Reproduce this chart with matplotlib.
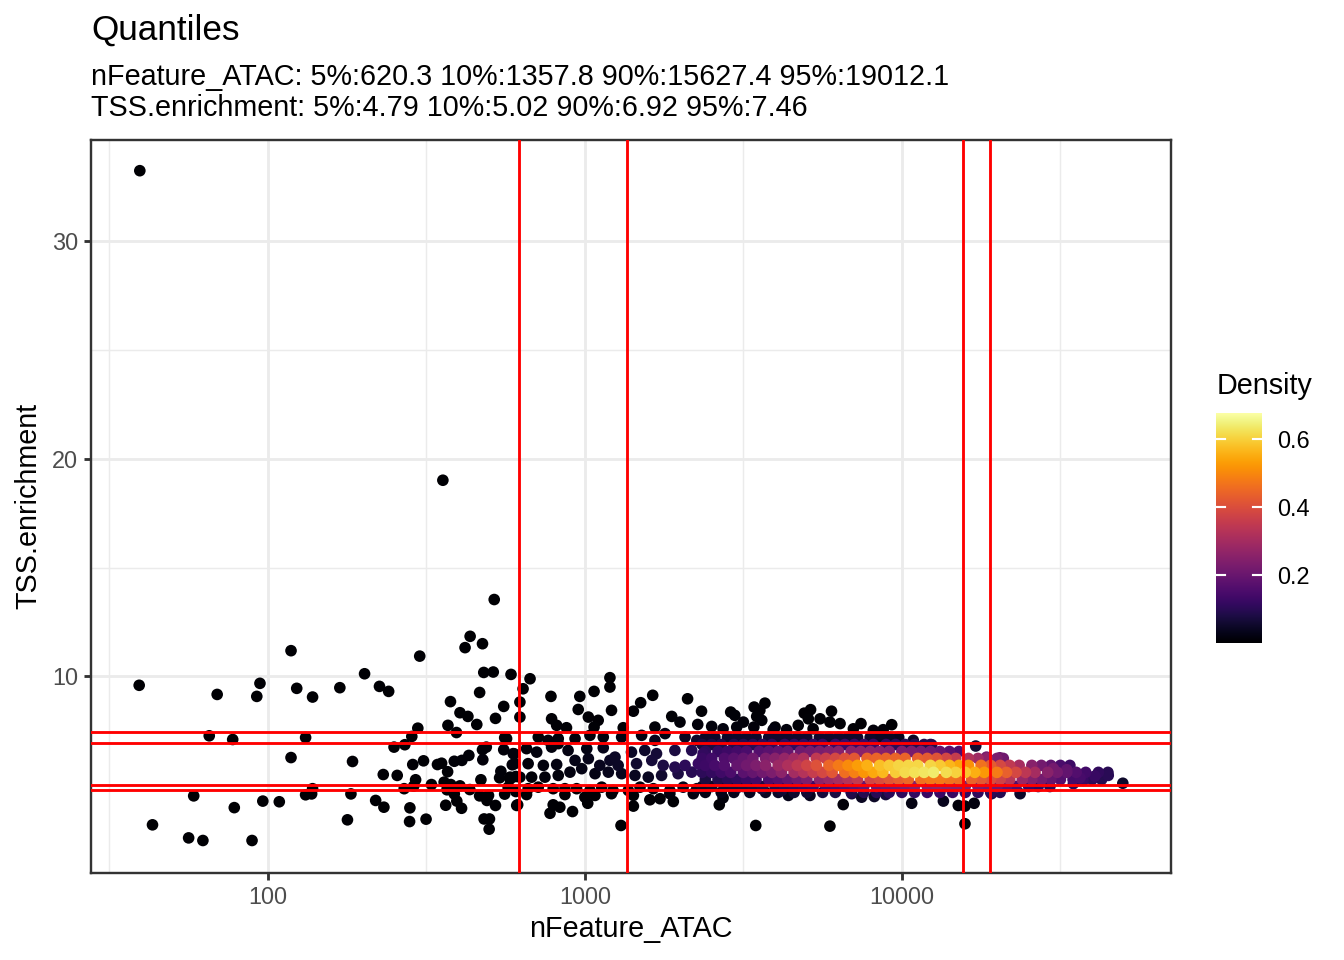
import numpy as np
import matplotlib
matplotlib.use("Agg")
import matplotlib.pyplot as plt
from matplotlib.colors import Normalize

plt.rcParams['font.family'] = ['Liberation Sans', 'DejaVu Sans']

# ---------------- data ----------------
# individually visible cells: log10(nFeature_ATAC), TSS.enrichment
sparse_log10_nfeature = [
    1.596, 2.552,
    2.714, 2.638, 2.622, 2.677, 2.073, 2.479, 2.681, 2.711, 2.767, 2.305,
    1.594, 1.840, 1.975, 1.965, 2.091, 2.141, 2.227, 2.352, 2.381, 2.668,
    2.576, 2.606, 2.631, 2.744, 2.718, 2.568, 2.659, 2.595, 2.473, 2.454,
    2.432, 2.398, 1.815, 1.889, 2.119, 2.073, 2.267, 2.364, 2.408, 2.457,
    2.491, 2.535, 2.548, 2.567, 2.588, 2.612, 2.634, 2.677, 2.689, 2.678,
    2.744, 2.747, 2.777, 2.771, 2.735, 2.731, 2.764, 2.782, 2.672, 2.466,
    2.430, 2.460, 2.516, 2.556, 2.577, 2.565, 2.606, 2.637, 2.588, 2.596,
    2.611, 2.561, 2.668, 2.696, 2.691, 2.718, 2.747, 2.782, 2.785, 2.682,
    2.699, 2.698, 2.499, 2.448, 2.447, 2.366, 2.340, 2.262, 2.251, 2.141,
    2.119, 2.138, 2.036, 1.984, 1.894, 1.766, 1.636, 1.750, 1.795, 1.950,
    2.827, 2.805, 2.795, 2.795, 2.893, 2.984, 3.029, 3.079, 3.079, 2.979,
    3.084, 2.895, 2.911, 3.011, 3.042, 3.153, 3.176, 3.214, 3.324, 3.368,
    3.274, 3.300, 3.356, 2.942, 3.029, 3.121, 3.221, 3.253, 2.853, 2.884,
    2.916, 2.969, 3.016, 3.058, 3.116, 3.179, 3.221, 3.316, 3.353, 2.753,
    2.816, 2.848, 2.774, 2.895, 2.916, 2.947, 3.006, 3.058, 3.095, 3.147,
    3.189, 3.226, 3.284, 3.337, 3.373, 2.779, 2.821, 2.869, 2.911, 2.969,
    3.011, 3.047, 3.079, 3.105, 3.163, 3.211, 3.247, 3.284, 3.316, 3.358,
    2.764, 2.795, 2.832, 2.874, 2.916, 2.953, 2.990, 3.032, 3.074, 3.116,
    3.158, 3.200, 3.242, 3.294, 3.337, 2.758, 2.821, 2.853, 2.900, 2.937,
    2.974, 3.016, 3.053, 3.089, 3.137, 3.174, 3.216, 3.268, 3.310, 3.353,
    2.816, 2.937, 3.000, 3.032, 3.084, 3.153, 3.205, 3.237, 3.268, 3.342,
    2.788, 3.009, 3.153, 3.279, 2.900, 2.921, 2.890, 2.961, 3.114,
    3.460, 3.473, 3.500, 3.534, 3.568, 3.552, 3.542, 3.558, 3.533, 3.692,
    3.712, 3.705, 3.742, 3.778, 3.773, 3.805, 3.871, 3.968, 3.673, 3.400,
    3.436, 3.479, 3.594, 3.636, 3.720, 3.847, 3.910, 3.941, 3.600,
    3.436, 3.424, 3.642, 3.710, 3.815, 3.842, 3.873, 3.913, 3.949, 3.539,
    3.773, 3.558, 3.484, 3.621,
    4.036, 4.094, 4.233, 4.267, 4.309, 4.478, 4.520, 4.562, 4.609, 4.651,
    4.697, 4.572, 4.031, 4.131, 4.178, 4.199, 4.228, 4.199, 4.283, 4.373,
    4.467, 4.541,
]
sparse_tss = [
    33.23, 19.01,
    13.53, 11.84, 11.32, 11.50, 11.18, 10.93, 10.18, 10.20, 10.09, 10.12,
    9.59, 9.17, 9.68, 9.08, 9.45, 9.05, 9.48, 9.54, 9.31, 9.26,
    8.84, 8.33, 8.16, 8.62, 8.07, 7.75, 7.79, 7.42, 7.62, 7.24,
    6.86, 6.75, 7.27, 7.10, 7.19, 6.27, 6.09, 5.49, 5.45, 5.95,
    6.12, 5.95, 6.01, 5.62, 6.10, 6.14, 6.37, 6.63, 6.75, 6.17,
    6.63, 7.18, 6.44, 5.94, 5.64, 5.34, 5.28, 5.40, 5.25, 5.25,
    4.84, 4.96, 5.03, 5.14, 5.03, 4.79, 4.97, 4.80, 4.60, 4.27,
    3.94, 4.08, 4.51, 4.53, 4.30, 4.07, 4.59, 4.71, 4.07, 3.45,
    3.45, 2.98, 3.44, 3.96, 3.33, 3.99, 4.30, 4.60, 3.41, 4.84,
    4.56, 4.60, 4.24, 4.27, 3.97, 4.51, 3.18, 2.58, 2.46, 2.46,
    9.89, 9.43, 8.82, 8.13, 9.08, 9.08, 9.31, 9.94, 9.51, 8.48,
    8.44, 8.05, 7.75, 8.13, 7.98, 8.40, 8.79, 9.13, 8.97, 8.40,
    8.16, 7.90, 7.79, 7.64, 7.67, 7.64, 7.67, 7.37, 7.21, 7.06,
    7.14, 7.14, 7.29, 7.21, 7.21, 7.29, 7.06, 7.21, 7.06, 7.14,
    6.68, 6.52, 6.45, 6.75, 6.91, 6.60, 6.68, 6.72, 6.29, 6.52,
    6.60, 6.45, 6.60, 6.60, 6.45, 5.99, 5.99, 5.91, 5.95, 6.14,
    6.22, 5.91, 6.14, 5.91, 5.99, 6.14, 5.91, 5.83, 5.91, 5.99,
    5.37, 5.37, 5.37, 5.37, 5.45, 5.60, 5.76, 5.53, 5.60, 5.53,
    5.45, 5.37, 5.45, 5.53, 5.60, 4.91, 4.84, 4.91, 4.84, 4.84,
    4.84, 4.76, 4.91, 4.76, 4.76, 4.91, 4.84, 4.76, 4.91, 4.84,
    4.57, 4.57, 4.45, 4.53, 4.61, 4.53, 4.33, 4.38, 4.61, 4.61,
    4.10, 4.17, 4.04, 4.25, 4.10, 3.99, 3.71, 3.79, 3.15,
    8.36, 8.21, 7.90, 8.59, 8.77, 8.44, 8.16, 7.98, 7.67, 8.31,
    8.47, 8.05, 8.05, 8.40, 7.90, 7.83, 7.83, 7.78, 7.75, 7.70,
    7.59, 7.67, 7.55, 7.55, 7.59, 7.59, 7.52, 7.55, 7.67,
    4.42, 4.10, 4.53, 4.53, 4.11, 4.61, 4.45, 4.48, 4.57, 3.15,
    3.12, 4.84, 4.91, 4.76,
    7.06, 6.86, 6.80, 6.29, 6.26, 5.76, 5.71, 5.34, 5.42, 5.45,
    5.09, 5.22, 4.17, 4.27, 4.07, 4.04, 4.17, 3.23, 4.61, 4.61,
    4.94, 5.07,
]

# opaque main cloud, read as rows: TSS.enrichment of each row and log10(nFeature_ATAC)
core_row_tss = [7.20, 6.87, 6.55, 6.23, 5.91, 5.59, 5.26, 4.94, 4.67]
core_row_log10_nfeature = [
    [3.38, 3.41, 3.45, 3.48, 3.51, 3.54, 3.58, 3.61, 3.64, 3.67, 3.70, 3.74,
     3.77, 3.80, 3.83, 3.86, 3.90, 3.93, 3.96, 3.99],
    [3.37, 3.40, 3.43, 3.47, 3.50, 3.53, 3.56, 3.59, 3.63, 3.66, 3.69, 3.72,
     3.75, 3.79, 3.82, 3.85, 3.88, 3.91, 3.95, 3.98, 4.01, 4.04, 4.07, 4.09],
    [3.38, 3.42, 3.45, 3.48, 3.51, 3.55, 3.58, 3.61, 3.64, 3.68, 3.71, 3.74,
     3.77, 3.80, 3.84, 3.87, 3.90, 3.93, 3.96, 4.00, 4.03, 4.06, 4.09, 4.12,
     4.15, 4.18],
    [3.37, 3.40, 3.44, 3.47, 3.50, 3.53, 3.57, 3.60, 3.63, 3.66, 3.69, 3.73,
     3.76, 3.79, 3.82, 3.85, 3.89, 3.92, 3.95, 3.98, 4.01, 4.05, 4.08, 4.11,
     4.14, 4.17, 4.21, 4.24, 4.27, 4.30, 4.32],
    [3.38, 3.41, 3.44, 3.48, 3.51, 3.54, 3.57, 3.61, 3.64, 3.67, 3.70, 3.73,
     3.77, 3.80, 3.83, 3.86, 3.89, 3.93, 3.96, 3.99, 4.02, 4.05, 4.09, 4.12,
     4.15, 4.18, 4.21, 4.25, 4.28, 4.31, 4.34, 4.37, 4.41, 4.44, 4.47, 4.50,
     4.53],
    [3.37, 3.40, 3.43, 3.46, 3.50, 3.53, 3.56, 3.59, 3.62, 3.66, 3.69, 3.72,
     3.75, 3.78, 3.82, 3.85, 3.88, 3.91, 3.94, 3.98, 4.01, 4.04, 4.07, 4.10,
     4.14, 4.17, 4.20, 4.23, 4.26, 4.30, 4.33, 4.36, 4.39, 4.42, 4.46, 4.49,
     4.52, 4.55, 4.58, 4.62, 4.65],
    [3.38, 3.42, 3.45, 3.48, 3.51, 3.54, 3.58, 3.61, 3.64, 3.67, 3.70, 3.74,
     3.77, 3.80, 3.83, 3.86, 3.90, 3.93, 3.96, 3.99, 4.02, 4.06, 4.09, 4.12,
     4.15, 4.18, 4.22, 4.25, 4.28, 4.31, 4.34, 4.38, 4.41, 4.44, 4.47, 4.50,
     4.54, 4.57, 4.60, 4.63],
    [3.37, 3.40, 3.44, 3.47, 3.50, 3.53, 3.56, 3.60, 3.63, 3.66, 3.69, 3.72,
     3.76, 3.79, 3.82, 3.85, 3.88, 3.92, 3.95, 3.98, 4.01, 4.04, 4.08, 4.11,
     4.14, 4.17, 4.20, 4.24, 4.27, 4.30, 4.33, 4.36, 4.40, 4.43],
    [3.38, 3.43, 3.47, 3.52, 3.57, 3.61, 3.66, 3.70, 3.75, 3.79, 3.84, 3.88,
     3.92, 3.96, 4.00, 4.04, 4.08, 4.12, 4.16, 4.20, 4.24, 4.28, 4.31],
]

# 2-D density (columns = log10 nFeature, rows = TSS)
density_grid_log10_nfeature = [2.4, 2.8, 3.0, 3.2, 3.4, 3.6, 3.8, 3.9, 4.0,
                               4.1, 4.2, 4.3, 4.4, 4.5, 4.6, 4.8, 5.0]
density_grid_tss = [3.0, 4.0, 4.5, 4.8, 5.1, 5.4, 5.7, 6.0, 6.3, 6.6, 7.0, 7.6, 9.0]
density_grid = [
    [0, 0.001, 0.002, 0.002, 0.003, 0.003, 0.003, 0.003, 0.003, 0.003, 0.002, 0.001, 0],
    [0, 0, 0.001, 0.003, 0.005, 0.008, 0.012, 0.014, 0.015, 0.013, 0.008, 0.003, 0],
    [0, 0, 0.003, 0.006, 0.011, 0.018, 0.025, 0.029, 0.029, 0.025, 0.016, 0.005, 0],
    [0, 0.001, 0.007, 0.014, 0.027, 0.042, 0.056, 0.064, 0.063, 0.052, 0.032, 0.009, 0],
    [0, 0.003, 0.017, 0.035, 0.063, 0.096, 0.126, 0.140, 0.132, 0.107, 0.063, 0.017, 0],
    [0, 0.003, 0.023, 0.059, 0.119, 0.196, 0.260, 0.280, 0.242, 0.170, 0.076, 0.011, 0],
    [0, 0.004, 0.039, 0.106, 0.225, 0.370, 0.475, 0.475, 0.370, 0.225, 0.078, 0.007, 0],
    [0, 0.005, 0.048, 0.134, 0.285, 0.465, 0.581, 0.556, 0.407, 0.228, 0.070, 0.005, 0],
    [0, 0.004, 0.050, 0.148, 0.326, 0.535, 0.652, 0.591, 0.397, 0.198, 0.050, 0.002, 0],
    [0, 0.006, 0.062, 0.176, 0.370, 0.577, 0.670, 0.577, 0.370, 0.176, 0.041, 0.002, 0],
    [0, 0.004, 0.053, 0.160, 0.349, 0.543, 0.607, 0.486, 0.279, 0.115, 0.021, 0.001, 0],
    [0, 0.003, 0.045, 0.139, 0.303, 0.462, 0.490, 0.363, 0.188, 0.068, 0.010, 0, 0],
    [0, 0.001, 0.017, 0.070, 0.183, 0.308, 0.332, 0.229, 0.101, 0.029, 0.003, 0, 0],
    [0, 0, 0.010, 0.045, 0.124, 0.206, 0.206, 0.124, 0.045, 0.010, 0.001, 0, 0],
    [0, 0, 0.006, 0.028, 0.079, 0.126, 0.115, 0.060, 0.018, 0.003, 0, 0, 0],
    [0, 0, 0.002, 0.010, 0.023, 0.030, 0.023, 0.010, 0.002, 0, 0, 0, 0],
    [0, 0, 0, 0, 0, 0, 0, 0, 0, 0, 0, 0, 0],
]
density_max = 0.675

quantile_nfeature = [620.3, 1357.8, 15627.4, 19012.1]
quantile_tss = [4.79, 5.02, 6.92, 7.46]

title = "Quantiles"
subtitle_lines = ["nFeature_ATAC: 5%:620.3 10%:1357.8 90%:15627.4 95%:19012.1",
                  "TSS.enrichment: 5%:4.79 10%:5.02 90%:6.92 95%:7.46"]
x_ticks = [100, 1000, 10000]
x_tick_labels = ["100", "1000", "10000"]
y_ticks = [10, 20, 30]
y_tick_labels = ["10", "20", "30"]
cbar_ticks = [0.2, 0.4, 0.6]
cbar_tick_labels = ["0.2", "0.4", "0.6"]

# ---------------- assemble ----------------
lx = list(sparse_log10_nfeature)
ty = list(sparse_tss)
for yv, row in zip(core_row_tss, core_row_log10_nfeature):
    lx.extend(row)
    ty.extend([yv] * len(row))
lx = np.array(lx)
ty = np.array(ty)

grid = np.array(density_grid, dtype=float)


def density_at(px, py):
    per_col = np.array([np.interp(py, density_grid_tss, grid[j]) for j in range(grid.shape[0])])
    return np.interp(px, density_grid_log10_nfeature, per_col)


dens = np.array([density_at(a, b) for a, b in zip(lx, ty)])
order = np.argsort(dens, kind="stable")

W, H = 1344, 960
fig = plt.figure(figsize=(7, 5), dpi=192)
ax = fig.add_axes([91 / W, 1 - 872.5 / H, (1171 - 91) / W, (872.5 - 140) / H])

cmap = plt.get_cmap("inferno")
norm = Normalize(vmin=0, vmax=density_max)

ax.scatter(10 ** lx[order], ty[order], c=dens[order], cmap=cmap, norm=norm,
           s=19, linewidths=0, zorder=3)

for q in quantile_nfeature:
    ax.axvline(q, color="#FF0000", lw=1.07, zorder=4)
for q in quantile_tss:
    ax.axhline(q, color="#FF0000", lw=1.07, zorder=4)

ax.set_xscale("log")
ax.set_xlim(10 ** 1.442, 10 ** 4.849)
ax.set_ylim(0.99, 34.64)
ax.set_xticks(x_ticks)
ax.set_xticklabels(x_tick_labels)
ax.set_xticks([10 ** 1.5, 10 ** 2.5, 10 ** 3.5, 10 ** 4.5], minor=True)
ax.set_yticks(y_ticks)
ax.set_yticklabels(y_tick_labels)
ax.set_yticks([5, 15, 25], minor=True)
ax.xaxis.set_minor_formatter(plt.NullFormatter())

ax.grid(which="major", color="#EBEBEB", lw=1.07, zorder=0)
ax.grid(which="minor", color="#EBEBEB", lw=0.53, zorder=0)
ax.set_axisbelow(True)
ax.tick_params(which="major", length=2.75, width=1.07, color="#333333",
               labelcolor="#4D4D4D", labelsize=8.8, pad=2.2)
ax.tick_params(which="minor", length=0)
for sp in ax.spines.values():
    sp.set_color("#333333")
    sp.set_linewidth(0.9)

# titles and axis labels
fig.text(91 / W, 1 - 40 / H, title, fontsize=13.2, ha="left", va="baseline")
fig.text(91 / W, 1 - 85 / H, subtitle_lines[0], fontsize=10.8, ha="left", va="baseline")
fig.text(91 / W, 1 - 116.5 / H, subtitle_lines[1], fontsize=10.8, ha="left", va="baseline")
fig.text(631 / W, 1 - 937 / H, "nFeature_ATAC", fontsize=10.8, ha="center", va="baseline")
fig.text(28 / W, 1 - 506 / H, "TSS.enrichment", fontsize=10.8, ha="center", va="center",
         rotation=90)

# colour bar
cax = fig.add_axes([1216 / W, 1 - 643 / H, 46 / W, 230 / H])
grad = np.linspace(0, density_max, 256).reshape(-1, 1)
cax.imshow(grad, aspect="auto", cmap=cmap, norm=norm, origin="lower",
           extent=[0, 1, 0, density_max])
cax.set_xlim(0, 1)
cax.set_ylim(0, density_max)
for t in cbar_ticks:
    cax.plot([0, 0.2], [t, t], color="white", lw=0.8)
    cax.plot([0.8, 1], [t, t], color="white", lw=0.8)
cax.set_xticks([])
cax.yaxis.tick_right()
cax.set_yticks(cbar_ticks)
cax.set_yticklabels(cbar_tick_labels)
cax.tick_params(axis="y", length=0, pad=5.5, labelsize=8.8, labelcolor="black")
for sp in cax.spines.values():
    sp.set_visible(False)
fig.text(1217 / W, 1 - 394 / H, "Density", fontsize=10.8, ha="left", va="baseline")

fig.savefig("out.png", dpi=192)
